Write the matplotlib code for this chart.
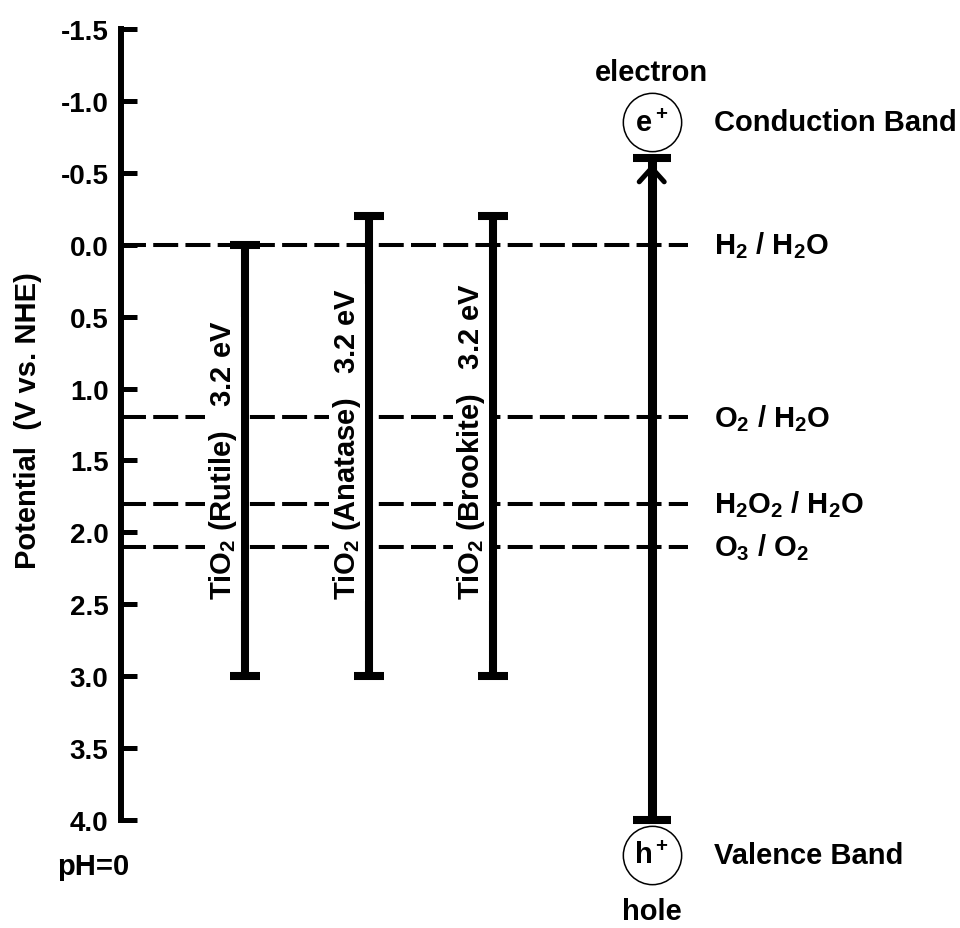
import matplotlib
matplotlib.use('Agg')
import matplotlib.pyplot as plt

plt.rcParams['font.family'] = ['Liberation Sans', 'DejaVu Sans']
plt.rcParams['font.weight'] = 'bold'
plt.rcParams['mathtext.fontset'] = 'custom'
plt.rcParams['mathtext.rm'] = 'Liberation Sans:bold'
plt.rcParams['mathtext.it'] = 'Liberation Sans:bold'
plt.rcParams['mathtext.bf'] = 'Liberation Sans:bold'
plt.rcParams['mathtext.default'] = 'regular'

# TiO2 polymorphs: band edges in V vs. NHE (pH=0)
phases = ['Rutile', 'Anatase', 'Brookite']
cb_edge = [0.0, -0.2, -0.2]
vb_edge = [3.0, 3.0, 3.0]
band_gap = [3.2, 3.2, 3.2]

# redox couples
couples = ['H$_2$ / H$_2$O', 'O$_2$ / H$_2$O', 'H$_2$O$_2$ / H$_2$O', 'O$_3$ / O$_2$']
potentials = [0.0, 1.2, 1.8, 2.1]

# photo-excitation arrow
excite_from = 4.0
excite_to = -0.6
head_tip = -0.56
carriers = ['e$^+$', 'h$^+$']
carrier_pos = [-0.85, 4.24]
carrier_names = ['electron', 'hole']
carrier_name_pos = [-1.2, 4.63]
band_names = ['Conduction Band', 'Valence Band']

yticks = [-1.5, -1.0, -0.5, 0.0, 0.5, 1.0, 1.5, 2.0, 2.5, 3.0, 3.5, 4.0]

# layout (x in units of one polymorph column)
phase_x = [1, 2, 3]
arrow_x = 4.28
dash_end = 4.57
text_x = 4.78
fs = 21

fig = plt.figure(figsize=(9.6, 9.29), dpi=100)
ax = fig.add_axes([121 / 960, 108 / 929, 839 / 960, 791 / 929])
ax.set_xlim(0, 839 / 124)
ax.set_ylim(4.0, -1.5)

for s in ['top', 'right', 'bottom']:
    ax.spines[s].set_visible(False)
ax.spines['left'].set_linewidth(4.3)
ax.spines['left'].set_capstyle('projecting')
ax.set_xticks([])
ax.set_yticks(yticks)
ax.set_yticklabels([f'{t:.1f}' for t in yticks])
ax.tick_params(axis='y', direction='in', length=11.5, width=3.6, pad=9,
               labelsize=20)

# redox levels
ax.hlines(potentials, 0, dash_end, colors='black', lw=2.9,
          linestyles=(0, (6.2, 1.8)), zorder=2)
for name, p in zip(couples, potentials):
    ax.text(text_x, p, name, fontsize=fs, ha='left', va='center')

# band gaps of the polymorphs
ax.vlines(phase_x, cb_edge, vb_edge, colors='black', lw=5.8, zorder=3)
ax.plot(phase_x, cb_edge, '_', color='black', ms=22, mew=5.8, zorder=3)
ax.plot(phase_x, vb_edge, '_', color='black', ms=22, mew=5.8, zorder=3)
for x, name, gap in zip(phase_x, phases, band_gap):
    ax.text(x - 0.18, 2.46, f'TiO$_2$ ({name})   {gap} eV', fontsize=fs,
            rotation=90, ha='center', va='bottom', zorder=4,
            bbox=dict(facecolor='white', edgecolor='none', pad=1.5))

# excitation arrow
ax.vlines(arrow_x, excite_to, excite_from, colors='black', lw=6.5, zorder=3,
          clip_on=False)
ax.plot([arrow_x, arrow_x], [excite_to, excite_from], '_', color='black',
        ms=27, mew=5.8, zorder=3, clip_on=False)
ax.annotate('', xy=(arrow_x, head_tip), xytext=(arrow_x, 0.0),
            arrowprops=dict(arrowstyle='->,head_length=0.5,head_width=0.45',
                            mutation_scale=20, lw=3.6, color='black',
                            shrinkA=0, shrinkB=0, capstyle='round'),
            zorder=3)

ax.plot([arrow_x] * 2, carrier_pos, 'o', ms=42, mfc='white', mec='black',
        mew=1.1, zorder=4, clip_on=False)
for c, p in zip(carriers, carrier_pos):
    ax.text(arrow_x, p, c, fontsize=fs, ha='center', va='center', zorder=5)
for n, p in zip(carrier_names, carrier_name_pos):
    ax.text(arrow_x, p, n, fontsize=fs, ha='center', va='center')
for n, p in zip(band_names, carrier_pos):
    ax.text(text_x, p, n, fontsize=fs, ha='left', va='center')

ax.text(-0.22, 4.32, 'pH=0', fontsize=fs, ha='center', va='center')
fig.text(28 / 960, 1 - 421 / 929, 'Potential  (V vs. NHE)', fontsize=fs,
         rotation=90, ha='center', va='center')

fig.savefig('out.png', dpi=100)
